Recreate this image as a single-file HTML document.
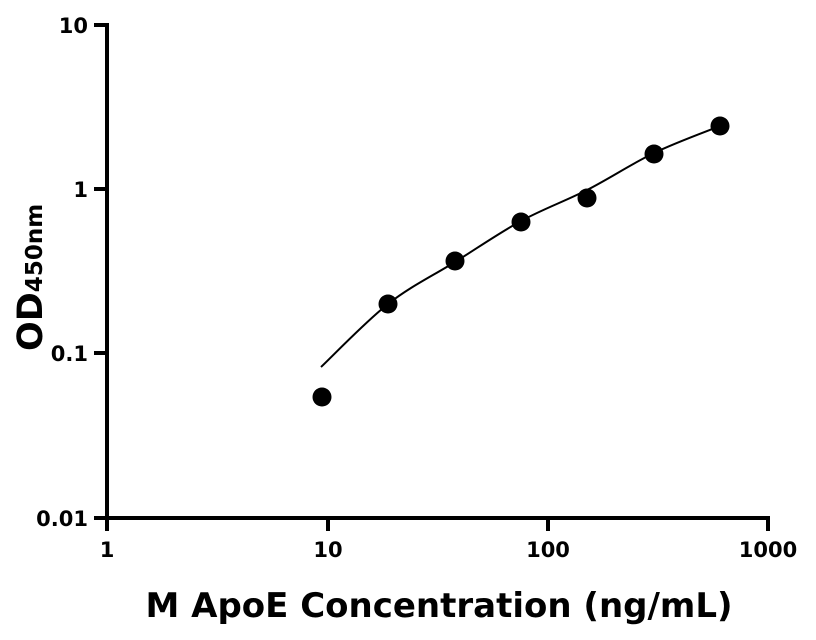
<!DOCTYPE html>
<html><head><style>body{margin:0;background:#fff}svg{display:block}text{font-family:"DejaVu Sans",sans-serif;font-weight:bold;fill:#000}</style></head>
<body>
<svg width="816" height="640" viewBox="0 0 816 640">
<g stroke="#000" stroke-width="4" fill="none">
<line x1="107" y1="23" x2="107" y2="520"/>
<line x1="105" y1="518" x2="770" y2="518"/>
<line x1="94" y1="25" x2="107" y2="25"/>
<line x1="94" y1="189" x2="107" y2="189"/>
<line x1="94" y1="353" x2="107" y2="353"/>
<line x1="94" y1="518" x2="107" y2="518"/>
<line x1="107" y1="518" x2="107" y2="531"/>
<line x1="328" y1="518" x2="328" y2="531"/>
<line x1="548" y1="518" x2="548" y2="531"/>
<line x1="768" y1="518" x2="768" y2="531"/>
</g>
<g font-size="21" text-anchor="end">
<text x="88" y="33">10</text>
<text x="88" y="197">1</text>
<text x="88" y="361">0.1</text>
<text x="88" y="526">0.01</text>
</g>
<g font-size="21" text-anchor="middle">
<text x="107" y="557">1</text>
<text x="328" y="557">10</text>
<text x="548" y="557">100</text>
<text x="768" y="557">1000</text>
</g>
<text x="439" y="617" font-size="34" text-anchor="middle">M ApoE Concentration (ng/mL)</text>
<text transform="translate(42,351) rotate(-90)" font-size="35">OD<tspan font-size="23">450nm</tspan></text>
<path d="M321,367 C332.2,356.5 365.7,321.5 388,304 C410.3,286.5 432.8,275.8 455,262 C477.2,248.2 499,233 521,221 C543,209 564.8,201.3 587,190 C609.2,178.7 631.8,163.7 654,153 C676.2,142.3 709,130.5 720,126" stroke="#000" stroke-width="2" fill="none"/>
<g fill="#000">
<circle cx="322" cy="397" r="9.5"/>
<circle cx="388" cy="304" r="9.5"/>
<circle cx="455" cy="261" r="9.5"/>
<circle cx="521" cy="222" r="9.5"/>
<circle cx="587" cy="198" r="9.5"/>
<circle cx="654" cy="154" r="9.5"/>
<circle cx="720" cy="126" r="9.5"/>
</g>
</svg>
</body></html>
